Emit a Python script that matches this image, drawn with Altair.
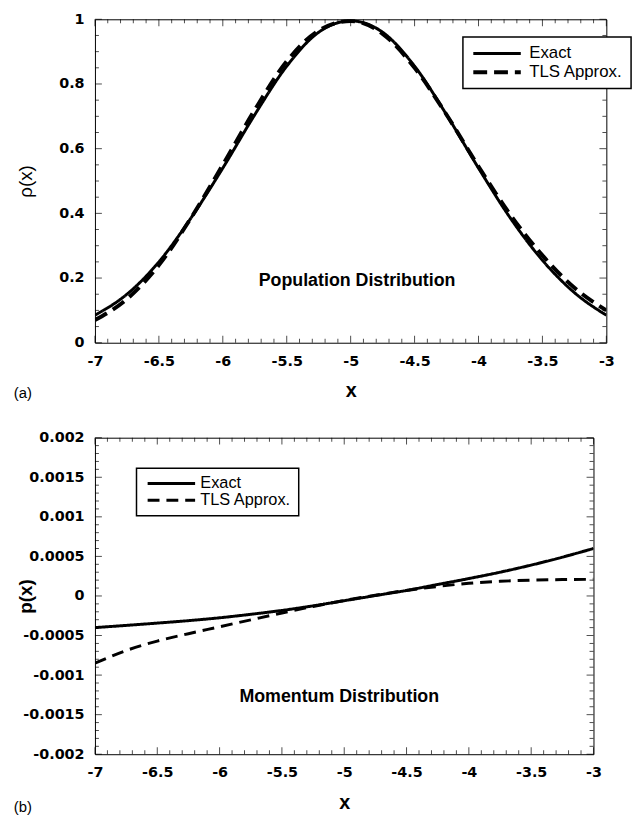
import altair as alt
import pandas as pd

# ---------------- data ----------------
x_vals = [-7, -6.75, -6.5, -6.25, -6, -5.75, -5.5, -5.25, -5,
          -4.75, -4.5, -4.25, -4, -3.75, -3.5, -3.25, -3]

pop_exact = [0.085, 0.15, 0.25, 0.385, 0.54, 0.705, 0.855, 0.96, 0.995,
             0.96, 0.855, 0.705, 0.54, 0.385, 0.255, 0.155, 0.085]
pop_tls = [0.07, 0.135, 0.24, 0.385, 0.55, 0.72, 0.87, 0.965, 0.995,
           0.955, 0.85, 0.705, 0.545, 0.395, 0.27, 0.17, 0.10]

mom_exact = [-0.0004, -0.000372, -0.000343, -0.000312, -0.000276, -0.000232, -0.000183,
             -0.000125, -0.00006, 0.000005, 0.00007, 0.000145, 0.00022, 0.0003,
             0.00039, 0.00049, 0.0006]
mom_tls = [-0.00085, -0.00069, -0.00057, -0.000477, -0.00039, -0.000302, -0.000215,
           -0.000133, -0.000058, 0.00001, 0.00007, 0.00012, 0.00016, 0.000185,
           0.0002, 0.000207, 0.00021]

series_names = ["Exact", "TLS Approx."]

x_tick_values = [-7, -6.5, -6, -5.5, -5, -4.5, -4, -3.5, -3]
x_tick_labels = ["-7", "-6.5", "-6", "-5.5", "-5", "-4.5", "-4", "-3.5", "-3"]

pop_y_ticks = [0, 0.2, 0.4, 0.6, 0.8, 1]
pop_y_labels = ["0", "0.2", "0.4", "0.6", "0.8", "1"]

mom_y_ticks = [-0.002, -0.0015, -0.001, -0.0005, 0, 0.0005, 0.001, 0.0015, 0.002]
mom_y_labels = ["-0.002", "-0.0015", "-0.001", "-0.0005", "0", "0.0005",
                "0.001", "0.0015", "0.002"]

TICK_FONT = "DejaVu Sans"
TEXT_FONT = "Liberation Sans"
# legend line sample: custom path scaled by sqrt(size)/2 -> 48 px long line
LEGEND_SYMBOL = "M-4,0H4"


def label_expr(values, labels):
    expr = "''"
    for v, l in reversed(list(zip(values, labels))):
        expr = f"abs(datum.value - ({v})) < 1e-9 ? '{l}' : ({expr})"
    return expr


def minor_list(lo, step, n, majors):
    out = []
    for i in range(n + 1):
        v = round(lo + i * step, 10)
        if all(abs(v - m) > 1e-9 for m in majors):
            out.append(v)
    return out


def panel(exact, tls, ydom, y_ticks, y_labels, y_minor_step, y_minor_n,
          y_title, y_title_weight, dash, dash_widths, legend_x, legend_y,
          legend_font, legend_pad, legend_rowpad, sym_off, lab_off,
          note, note_x, note_y, w, h, tag, tag_dx, tag_dy):
    rows = []
    for name, ys in zip(series_names, [exact, tls]):
        for xv, yv in zip(x_vals, ys):
            rows.append({"x": xv, "y": yv, "series": name})
    df = pd.DataFrame(rows)

    xscale = alt.Scale(domain=[-7, -3], nice=False, zero=False)
    yscale = alt.Scale(domain=ydom, nice=False, zero=False)

    x_axis = alt.Axis(values=x_tick_values, labelExpr=label_expr(x_tick_values, x_tick_labels),
                      ticks=False, domain=False, grid=False, labelFont=TICK_FONT,
                      labelFontSize=14.5, labelFontWeight="bold", labelColor="black",
                      labelPadding=12, title="x", titleFont=TEXT_FONT, titleFontSize=20,
                      titleFontWeight="bold", titleColor="black", titlePadding=13,
                      labelFlush=False)
    y_axis = alt.Axis(values=y_ticks, labelExpr=label_expr(y_ticks, y_labels),
                      ticks=False, domain=False, grid=False, labelFont=TICK_FONT,
                      labelFontSize=14.5, labelFontWeight="bold", labelColor="black",
                      labelPadding=11, title=y_title, titleFont=TEXT_FONT, titleFontSize=19,
                      titleFontWeight=y_title_weight, titleColor="black", titlePadding=20,
                      minExtent=40, maxExtent=40, labelFlush=False)

    X = lambda: alt.X("x:Q", scale=xscale, axis=x_axis, title="x")
    Y = lambda: alt.Y("y:Q", scale=yscale, axis=y_axis, title=y_title)

    lines = alt.Chart(df).mark_line(color="black", interpolate="monotone", clip=True).encode(
        x=X(), y=Y(),
        strokeDash=alt.StrokeDash("series:N",
                                  scale=alt.Scale(domain=series_names, range=[[1, 0], dash]),
                                  legend=alt.Legend(title=None, orient="none", legendX=legend_x,
                                                    legendY=legend_y, direction="vertical",
                                                    symbolType=LEGEND_SYMBOL, symbolSize=144,
                                                    symbolStrokeWidth=3, symbolStrokeColor="black",
                                                    symbolOffset=sym_off,
                                                    labelFont=TEXT_FONT, labelFontSize=legend_font,
                                                    labelColor="black", strokeColor="black",
                                                    fillColor="white", padding=legend_pad,
                                                    rowPadding=legend_rowpad,
                                                    labelOffset=lab_off, cornerRadius=0)),
        strokeWidth=alt.StrokeWidth("series:N",
                                    scale=alt.Scale(domain=series_names, range=dash_widths),
                                    legend=None),
    )

    # inward ticks on all four sides
    x_minor = minor_list(-7, 0.1, 40, x_tick_values)
    y_minor = minor_list(ydom[0], y_minor_step, y_minor_n, y_ticks)
    tick_layers = []
    for vals, size in [(x_tick_values, 7), (x_minor, 4)]:
        for yv, off in [(ydom[0], -size / 2), (ydom[1], size / 2)]:
            tdf = pd.DataFrame({"x": vals, "y": [yv] * len(vals)})
            tick_layers.append(
                alt.Chart(tdf).mark_tick(orient="vertical", size=size, thickness=1,
                                         color="black", yOffset=off).encode(x=X(), y=Y()))
    for vals, size in [(y_ticks, 7), (y_minor, 4)]:
        for xv, off in [(-7, size / 2), (-3, -size / 2)]:
            tdf = pd.DataFrame({"x": [xv] * len(vals), "y": vals})
            tick_layers.append(
                alt.Chart(tdf).mark_tick(orient="horizontal", size=size, thickness=1,
                                         color="black", xOffset=off).encode(x=X(), y=Y()))

    note_df = pd.DataFrame({"x": [note_x], "y": [note_y], "t": [note]})
    text = alt.Chart(note_df).mark_text(font=TEXT_FONT, fontSize=18, fontWeight="bold",
                                        color="black", align="center", baseline="middle").encode(
        x=X(), y=Y(), text="t:N")

    return alt.layer(lines, *tick_layers, text).properties(
        width=w, height=h,
        title=alt.TitleParams(tag, orient="bottom", anchor="start", frame="group",
                              dx=tag_dx, dy=tag_dy, font=TEXT_FONT, fontSize=15,
                              fontWeight="normal", color="black", offset=0))


top = panel(pop_exact, pop_tls, [0, 1], pop_y_ticks, pop_y_labels, 0.05, 20,
            "ρ(x)", "normal", [14, 7], [3, 4], 372, 18,
            17, 8, 1, 18, 24,
            "Population Distribution", -4.95, 0.19, 517, 327, "(a)", -82, -15)
bottom = panel(mom_exact, mom_tls, [-0.002, 0.002], mom_y_ticks, mom_y_labels, 0.0001, 40,
               "p(x)", "bold", [12, 7], [3, 3], 42, 31,
               16.5, 7, 0, 20, 21,
               "Momentum Distribution", -5.04, -0.001275, 504, 320, "(b)", -82, -12)

chart = alt.vconcat(top, bottom, spacing=28).resolve_scale(
    x="independent", y="independent", strokeDash="independent", strokeWidth="independent"
).resolve_legend(strokeDash="independent").properties(
    padding={"left": 13, "top": 6, "right": 5, "bottom": 0}
).configure_view(stroke="black", strokeWidth=1).configure_legend(strokeWidth=1.5)

chart.save("out.html", embed_options={"renderer": "svg", "actions": False})
